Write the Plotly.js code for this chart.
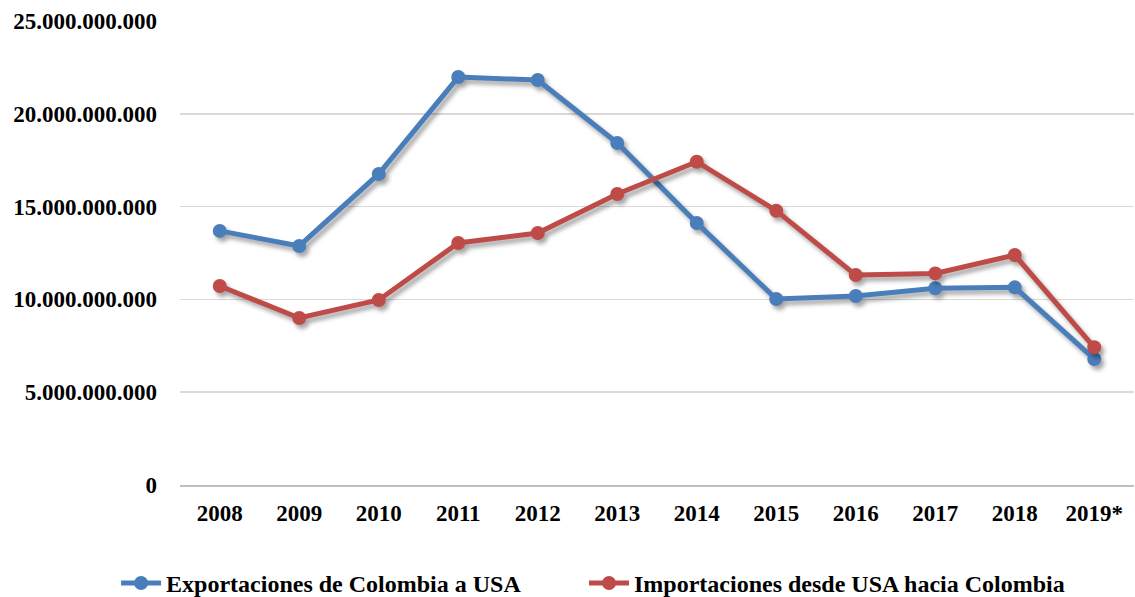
<!DOCTYPE html>
<html>
<head>
<meta charset="utf-8">
<script src="https://cdn.plot.ly/plotly-3.0.1.min.js"></script>
<style>
html,body{margin:0;padding:0;background:#fff;}
#chart{width:1135px;height:597px;}
.scatterlayer .trace{filter:drop-shadow(3px 4px 2px rgba(0,0,0,0.35));}
</style>
</head>
<body>
<div id="chart"></div>
<script>
var years = ["2008","2009","2010","2011","2012","2013","2014","2015","2016","2017","2018","2019*"];
var exportaciones = [13690000000,12880000000,16760000000,21980000000,21820000000,18430000000,14120000000,10020000000,10180000000,10600000000,10650000000,6790000000];
var importaciones = [10720000000,9000000000,9970000000,13040000000,13580000000,15680000000,17420000000,14780000000,11310000000,11400000000,12390000000,7420000000];
var seriesNames = ["Exportaciones de Colombia a USA","Importaciones desde USA hacia Colombia"];
var yTicks = [0,5000000000,10000000000,15000000000,20000000000,25000000000];

var fam = "Liberation Serif";
var tf = {family:fam, size:23, color:"#000", weight:"bold"};
var lf = {family:fam, size:24, color:"#000", weight:"bold"};

var traces = [
  {x:years, y:exportaciones, name:seriesNames[0], type:"scatter", mode:"lines+markers",
   line:{color:"#4a7ebb", width:5}, marker:{color:"#4a7ebb", size:14}, legend:"legend"},
  {x:years, y:importaciones, name:seriesNames[1], type:"scatter", mode:"lines+markers",
   line:{color:"#be4b48", width:5}, marker:{color:"#be4b48", size:14}, legend:"legend2"}
];

var layout = {
  width:1135, height:597,
  margin:{l:180, r:1, t:21, b:112, autoexpand:false},
  paper_bgcolor:"#fff", plot_bgcolor:"#fff",
  separators:",.",
  font:{family:fam, size:20, color:"#000"},
  showlegend:true,
  legend:{orientation:"h", x:-0.067, xanchor:"left", y:-0.212, yanchor:"middle", font:lf, itemwidth:40},
  legend2:{orientation:"h", x:0.4235, xanchor:"left", y:-0.212, yanchor:"middle", font:lf, itemwidth:40},
  xaxis:{type:"category", range:[-0.5,11.5], showgrid:false, showline:true, linecolor:"#bfbfbf", linewidth:2,
         ticks:"", tickfont:tf, ticklabelstandoff:6, zeroline:false, fixedrange:true},
  yaxis:{range:[0,25000000000], tickvals:yTicks, tickformat:",d", showgrid:true, gridcolor:"#d9d9d9",
         gridwidth:1.5, zeroline:false, showline:false, ticks:"",
         tickfont:tf, ticklabelstandoff:22, fixedrange:true}
};

Plotly.newPlot("chart", traces, layout, {displayModeBar:false, staticPlot:true});
</script>
</body>
</html>
